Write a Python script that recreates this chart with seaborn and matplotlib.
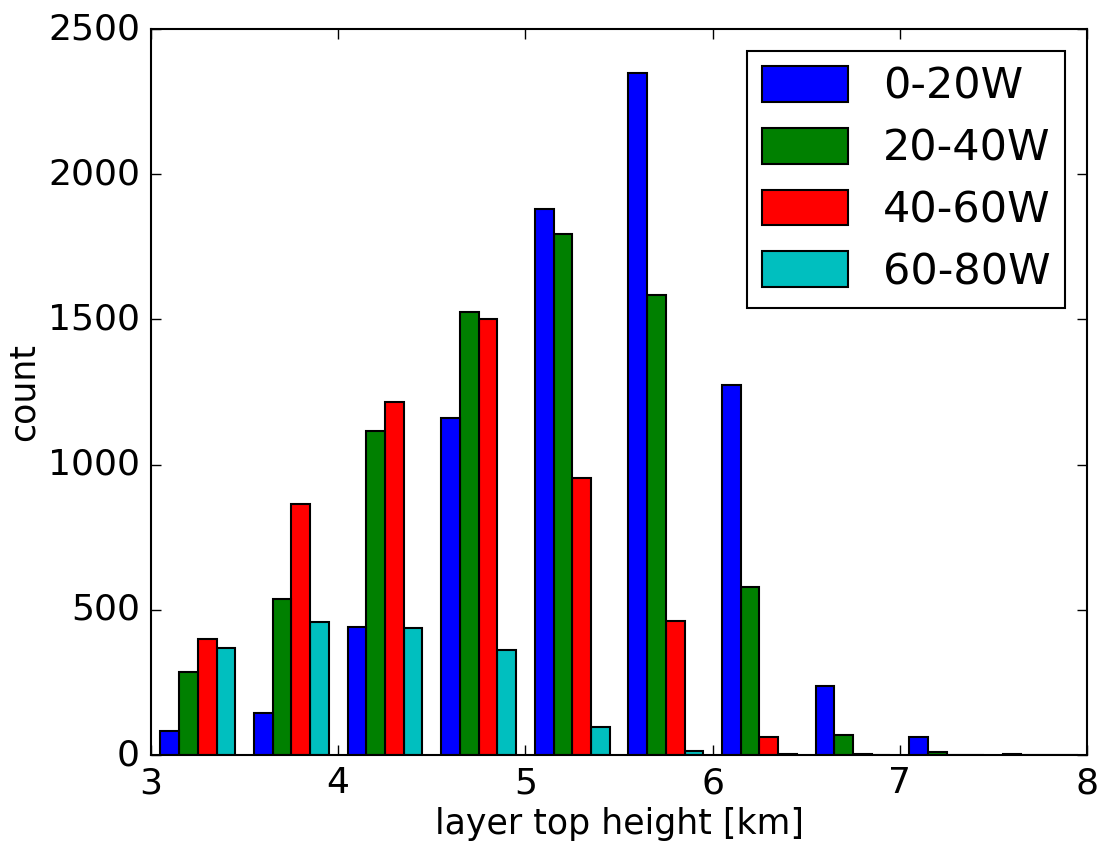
import numpy as np
import pandas as pd
import matplotlib
matplotlib.use("Agg")
import matplotlib.pyplot as plt
import seaborn as sns

plt.style.use("classic")
plt.rcParams["font.family"] = ["DejaVu Sans"]

# bin centres of the 0.5 km bins from 3 to 8 km
bin_centres = [3.25, 3.75, 4.25, 4.75, 5.25, 5.75, 6.25, 6.75, 7.25, 7.75]
labels = ["0-20W", "20-40W", "40-60W", "60-80W"]
counts_0_20 = [83, 144, 440, 1160, 1880, 2348, 1274, 238, 63, 2]
counts_20_40 = [287, 537, 1116, 1525, 1794, 1584, 578, 69, 11, 1]
counts_40_60 = [400, 864, 1216, 1501, 954, 462, 63, 2, 1, 1]
counts_60_80 = [367, 459, 437, 363, 96, 15, 2, 0, 0, 0]
colors = ["#0000ff", "#008000", "#ff0000", "#00bfbf"]

rows = []
for lab, cnt in zip(labels, [counts_0_20, counts_20_40, counts_40_60, counts_60_80]):
    for c, n in zip(bin_centres, cnt):
        rows.append({"height": c, "count": n, "region": lab})
df = pd.DataFrame(rows)

fig = plt.figure(figsize=(11.05, 8.47), dpi=100)
ax = fig.add_axes([0.1367, 0.1086, 0.847, 0.857])

sns.histplot(data=df, x="height", weights="count", hue="region",
             hue_order=labels, palette=colors, binwidth=0.5, binrange=(3, 8),
             multiple="dodge", shrink=0.8, alpha=1, edgecolor="black",
             linewidth=1.5, ax=ax)

ax.set_xlim(3, 8)
ax.set_ylim(0, 2500)
ax.set_xticks([3, 4, 5, 6, 7, 8])
ax.set_yticks([0, 500, 1000, 1500, 2000, 2500])
ax.tick_params(labelsize=26, length=7, width=1, direction="in", top=True, right=True, pad=8)
ax.minorticks_off()
for s in ax.spines.values():
    s.set_linewidth(1.5)
ax.set_xlabel("layer top height [km]", fontsize=25)
ax.set_ylabel("count", fontsize=25)

sns.move_legend(ax, "upper right", title=None, fontsize=31, frameon=True,
                fancybox=False, shadow=False, handlelength=2.0, handleheight=0.9,
                borderaxespad=0.5, labelspacing=0.46, handletextpad=0.8,
                borderpad=0.35)
leg = ax.get_legend()
leg.get_frame().set_edgecolor("black")
leg.get_frame().set_linewidth(1.5)

fig.savefig("out.png", dpi=100, facecolor="white")
